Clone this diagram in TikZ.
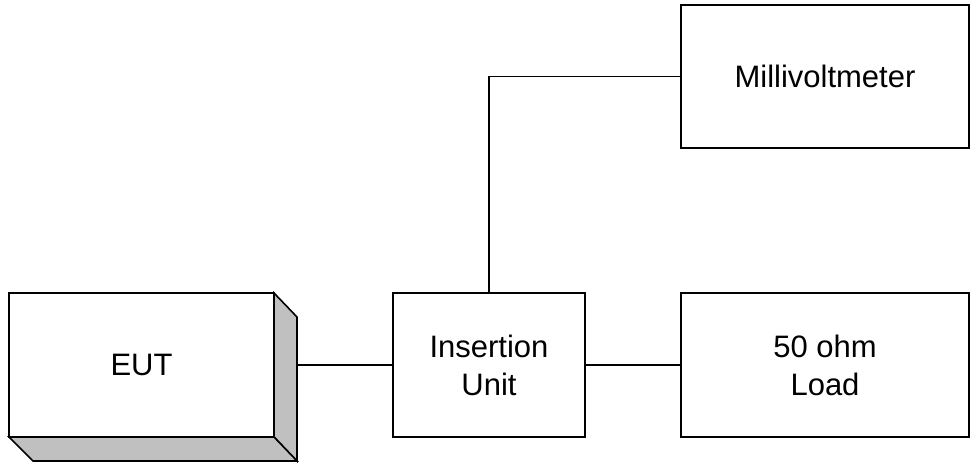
\documentclass[tikz,border=0pt]{standalone}
\usepackage{fontspec}
\setmainfont{Liberation Sans}
\definecolor{sidegray}{HTML}{C0C0C0}
\begin{document}
\begin{tikzpicture}[x=1pt,y=-1pt,
  boxstyle/.style={draw,line width=1.6pt,fill=white,inner sep=0pt,align=center,
    font=\fontsize{31}{38}\selectfont},
  wire/.style={line width=1.6pt},
  face/.style={draw,line width=1.6pt,fill=sidegray,line join=miter}]
\useasboundingbox (0,0) rectangle (973,464);
% EUT 3D box
\draw[face] (274,293) -- (297,317) -- (297,461) -- (274,437) -- cycle;
\draw[face] (9,437) -- (274,437) -- (297,461) -- (33,461) -- cycle;
\node[boxstyle,minimum width=265pt,minimum height=144pt] (eut) at (141.5,365) {EUT};
\coordinate (eutside) at (297,365);
\node[boxstyle,minimum width=192pt,minimum height=144pt] (ins) at (489,365) {Insertion\\Unit};
\node[boxstyle,minimum width=288pt,minimum height=143pt] (mv) at (825,76.5) {Millivoltmeter};
\node[boxstyle,minimum width=288pt,minimum height=144pt] (load) at (825,365) {50 ohm\\Load};
\draw[wire] (eutside) -- (ins.west);
\draw[wire] (ins.east) -- (load.west);
\draw[wire] (ins.north) |- (mv.west);
\end{tikzpicture}
\end{document}
